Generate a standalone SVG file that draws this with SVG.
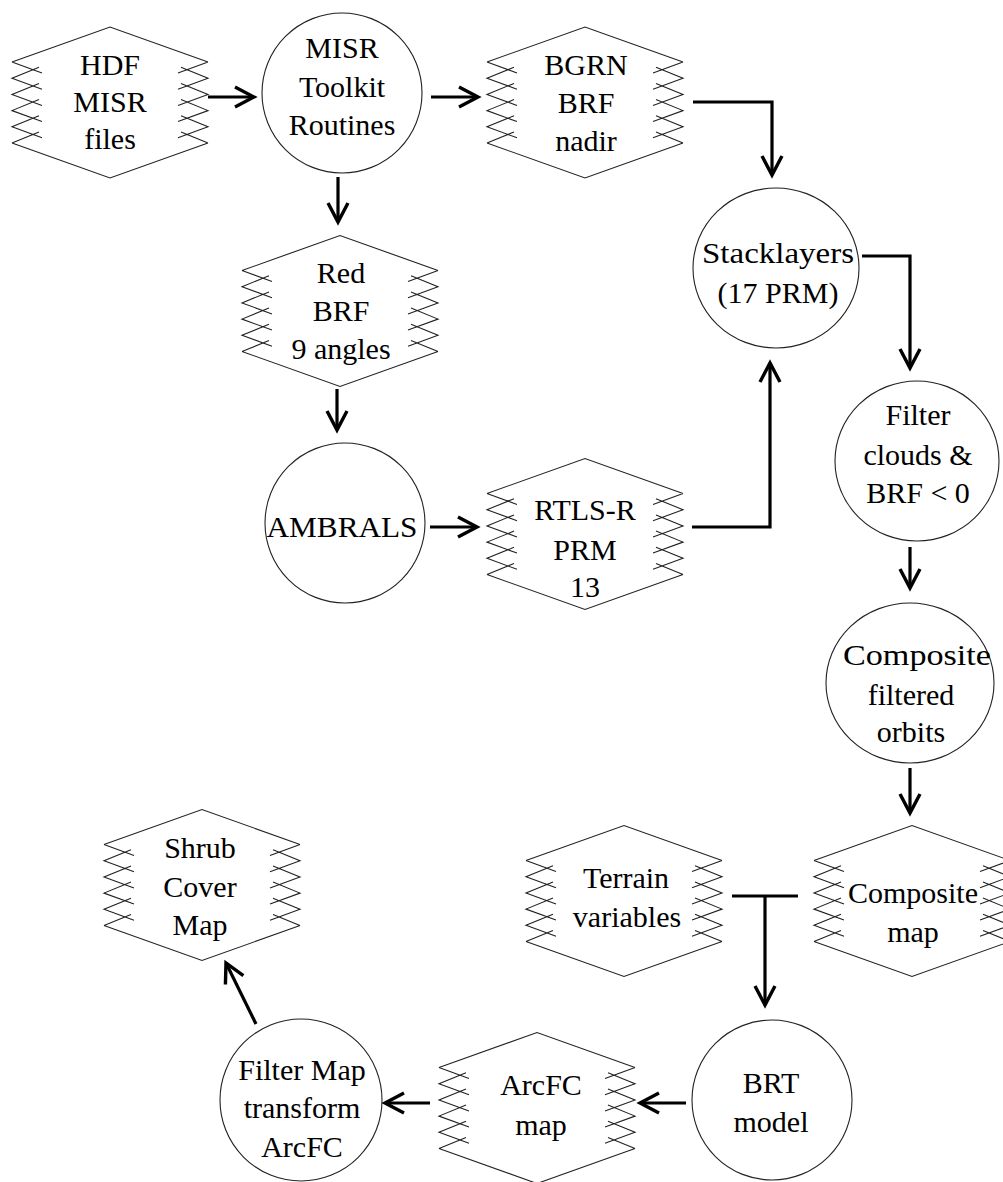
<svg xmlns="http://www.w3.org/2000/svg" width="1003" height="1182" viewBox="0 0 1003 1182">
<style>
.shape{fill:#fff;stroke:#222;stroke-width:1.1}
.zig{fill:none;stroke:#222;stroke-width:1.1}
.lbl{font-family:"Liberation Serif","Times New Roman",serif;font-size:30px;fill:#000;text-anchor:middle}
.conn{fill:none;stroke:#000;stroke-width:3.2}
</style>
<defs>
<marker id="arr" markerUnits="userSpaceOnUse" markerWidth="26" markerHeight="26" viewBox="0 0 26 26" refX="22" refY="13" orient="auto">
<path d="M3,3 L22,13 L3,23" fill="none" stroke="#000" stroke-width="3.4"/>
</marker>
<g id="hex">
<path fill="#fff" stroke="none" d="M-98,-40.5 L0,-75.5 L98,-40.5 L98,40.5 L0,75.5 L-98,40.5 Z"/>
<path class="zig" d="M-98,-40.5 L0,-75.5 L98,-40.5 M-98,40.5 L0,75.5 L98,40.5
M-98,-40.5 L-68,-29.5
M-71,-35.3 L-98,-24.3 L-68,-13.3
M-71,-19.1 L-98,-8.1 L-68,2.9
M-71,-2.9 L-98,8.1 L-68,19.1
M-71,13.3 L-98,24.3 L-68,35.3
M-71,29.5 L-98,40.5
M98,-40.5 L68,-29.5
M71,-35.3 L98,-24.3 L68,-13.3
M71,-19.1 L98,-8.1 L68,2.9
M71,-2.9 L98,8.1 L68,19.1
M71,13.3 L98,24.3 L68,35.3
M71,29.5 L98,40.5"/>
</g>
</defs>
<rect width="1003" height="1182" fill="#fff"/>

<g id="n-hdf">
<use href="#hex" transform="translate(110,102.5)"/>
<text class="lbl" x="110" y="75">HDF</text>
<text class="lbl" x="110" y="112">MISR</text>
<text class="lbl" x="110" y="149">files</text>
</g>

<g id="n-misr">
<ellipse class="shape" cx="342" cy="93" rx="80" ry="80"/>
<text class="lbl" x="342" y="58">MISR</text>
<text class="lbl" x="342" y="97">Toolkit</text>
<text class="lbl" x="342" y="135">Routines</text>
</g>

<g id="n-bgrn">
<use href="#hex" transform="translate(585,102.5)"/>
<text class="lbl" x="586" y="75">BGRN</text>
<text class="lbl" x="586" y="113">BRF</text>
<text class="lbl" x="586" y="151">nadir</text>
</g>

<g id="n-red">
<use href="#hex" transform="translate(340,311)"/>
<text class="lbl" x="341" y="283">Red</text>
<text class="lbl" x="341" y="321">BRF</text>
<text class="lbl" x="341" y="359">9 angles</text>
</g>

<g id="n-stack">
<ellipse class="shape" cx="776" cy="268" rx="83" ry="80"/>
<text class="lbl" x="778" y="263" textLength="152" lengthAdjust="spacingAndGlyphs">Stacklayers</text>
<text class="lbl" x="778" y="303">(17 PRM)</text>
</g>

<g id="n-ambrals">
<ellipse class="shape" cx="345" cy="523" rx="80" ry="80"/>
<text class="lbl" x="342" y="537" textLength="151" lengthAdjust="spacingAndGlyphs">AMBRALS</text>
</g>

<g id="n-rtls">
<use href="#hex" transform="translate(585,534)"/>
<text class="lbl" x="585" y="520">RTLS-R</text>
<text class="lbl" x="585" y="560">PRM</text>
<text class="lbl" x="585" y="597">13</text>
</g>

<g id="n-filter">
<ellipse class="shape" cx="917" cy="461" rx="82" ry="80"/>
<text class="lbl" x="918" y="425">Filter</text>
<text class="lbl" x="918" y="465">clouds &amp;</text>
<text class="lbl" x="918" y="503">BRF &lt; 0</text>
</g>

<g id="n-corbits">
<ellipse class="shape" cx="910" cy="683" rx="84" ry="80"/>
<text class="lbl" x="917" y="665" textLength="148" lengthAdjust="spacingAndGlyphs">Composite</text>
<text class="lbl" x="911" y="705">filtered</text>
<text class="lbl" x="911" y="742">orbits</text>
</g>

<g id="n-terrain">
<use href="#hex" transform="translate(624,901)"/>
<text class="lbl" x="626" y="888">Terrain</text>
<text class="lbl" x="627" y="927">variables</text>
</g>

<g id="n-cmap">
<use href="#hex" transform="translate(912,901)"/>
<text class="lbl" x="913" y="903">Composite</text>
<text class="lbl" x="913" y="942">map</text>
</g>

<g id="n-brt">
<ellipse class="shape" cx="772" cy="1100" rx="80" ry="80"/>
<text class="lbl" x="771" y="1093">BRT</text>
<text class="lbl" x="771" y="1132">model</text>
</g>

<g id="n-arcfc">
<use href="#hex" transform="translate(537,1108)"/>
<text class="lbl" x="541" y="1095">ArcFC</text>
<text class="lbl" x="541" y="1135">map</text>
</g>

<g id="n-filtermap">
<ellipse class="shape" cx="301" cy="1100" rx="81" ry="81"/>
<text class="lbl" x="302" y="1080">Filter Map</text>
<text class="lbl" x="302" y="1118">transform</text>
<text class="lbl" x="302" y="1157">ArcFC</text>
</g>

<g id="n-shrub">
<use href="#hex" transform="translate(202,885)"/>
<text class="lbl" x="200" y="858">Shrub</text>
<text class="lbl" x="200" y="897">Cover</text>
<text class="lbl" x="200" y="935">Map</text>
</g>

<g id="connectors">
<path class="conn" marker-end="url(#arr)" d="M208,97 L254,97"/>
<path class="conn" marker-end="url(#arr)" d="M431,97 L478,97"/>
<path class="conn" marker-end="url(#arr)" d="M338,177 L338,222"/>
<path class="conn" marker-end="url(#arr)" d="M693,102 L772,102 L772,175"/>
<path class="conn" marker-end="url(#arr)" d="M862,256 L910,256 L910,368"/>
<path class="conn" marker-end="url(#arr)" d="M337,389 L337,430"/>
<path class="conn" marker-end="url(#arr)" d="M430,527 L477,527"/>
<path class="conn" marker-end="url(#arr)" d="M692,527 L770,527 L770,363"/>
<path class="conn" marker-end="url(#arr)" d="M910,547 L910,588"/>
<path class="conn" marker-end="url(#arr)" d="M910,768 L910,813"/>
<path class="conn" d="M732,896 L798,896"/>
<path class="conn" marker-end="url(#arr)" d="M765,896 L765,1005"/>
<path class="conn" marker-end="url(#arr)" d="M686,1103 L640,1103"/>
<path class="conn" marker-end="url(#arr)" d="M430,1103 L385,1103"/>
<path class="conn" marker-end="url(#arr)" d="M256,1024 L226,963"/>
</g>
</svg>
